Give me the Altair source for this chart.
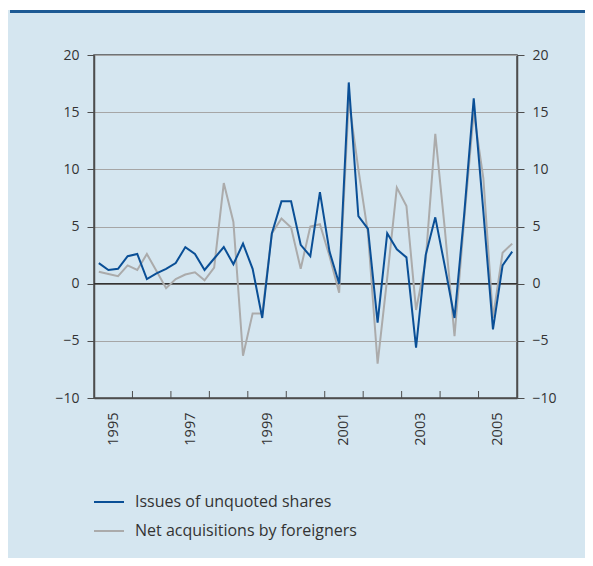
import altair as alt
import pandas as pd

quarters = [f"{y}Q{q}" for y in range(1995, 2006) for q in range(1, 5)]

issues_unquoted = [1.8, 1.2, 1.3, 2.4, 2.6, 0.4, 0.9, 1.3, 1.8, 3.2, 2.6, 1.2,
                   2.2, 3.2, 1.7, 3.5, 1.3, -3.0, 4.4, 7.2, 7.2, 3.4, 2.4, 8.0,
                   2.8, 0.0, 17.6, 5.9, 4.8, -3.4, 4.4, 3.0, 2.3, -5.6, 2.5, 5.8,
                   1.5, -3.0, 6.0, 16.2, 6.3, -4.0, 1.6, 2.8]
net_acq_foreign = [1.05, 0.85, 0.65, 1.6, 1.2, 2.6, 1.1, -0.4, 0.4, 0.8, 1.0, 0.3,
                   1.4, 8.8, 5.4, -6.3, -2.6, -2.6, 4.4, 5.7, 4.9, 1.3, 5.0, 5.2,
                   2.4, -0.8, 16.1, 10.0, 4.4, -7.0, 0.5, 8.4, 6.8, -2.3, 2.0, 13.1,
                   4.7, -4.6, 5.5, 15.0, 9.2, -3.0, 2.7, 3.5]
series_names = ["Issues of unquoted shares", "Net acquisitions by foreigners"]
year_labels = [1995, 1997, 1999, 2001, 2003, 2005]
year_bounds = list(range(1996, 2006))
y_ticks = [-10, -5, 0, 5, 10, 15, 20]

BLUE = "#0a4f96"
GRAY = "#ababab"
BG = "#d5e6f0"
FONT = "Open Sans"
W, H = 423, 343


def qpos(q):
    y, n = q.split("Q")
    return int(y) + (int(n) - 0.5) / 4


df = pd.DataFrame({
    "t": [qpos(q) for q in quarters] * 2,
    "v": issues_unquoted + net_acq_foreign,
    "s": [series_names[0]] * len(quarters) + [series_names[1]] * len(quarters),
})
df_blue = df[df.s == series_names[0]]
df_gray = df[df.s == series_names[1]]

xscale = alt.Scale(domain=[1995, 2006], nice=False, zero=False)
yscale = alt.Scale(domain=[-10, 20], nice=False, zero=False)

xaxis = alt.Axis(values=[y + 0.5 for y in year_labels], labelExpr="floor(datum.value)",
                 labelAngle=270, labelAlign="right", labelBaseline="middle",
                 ticks=False, tickSize=0, labelPadding=14, grid=False, title=None,
                 domainColor="#4d4d4d", domainWidth=1.5, labelFont=FONT,
                 labelFontSize=14.5, labelColor="#333333")
yaxis = alt.Axis(values=y_ticks, grid=True, gridColor="#a6a6a6", gridWidth=1,
                 tickSize=7, tickColor="#4d4d4d", tickWidth=1, domainColor="#4d4d4d",
                 domainWidth=1.5, labelPadding=8, title=None, labelFont=FONT,
                 labelFontSize=14, labelColor="#333333", format="d")
yaxis_r = alt.Axis(values=y_ticks, grid=False, orient="right",
                   tickSize=7, tickColor="#4d4d4d", tickWidth=1, domainColor="#4d4d4d",
                   domainWidth=1.5, labelPadding=8, title=None, labelFont=FONT,
                   labelFontSize=14, labelColor="#333333", format="d")

color = alt.Color("s:N", scale=alt.Scale(domain=series_names, range=[BLUE, GRAY]),
                  legend=alt.Legend(orient="none", legendX=-1, legendY=431, title=None,
                                    symbolType="stroke", symbolSize=900,
                                    symbolStrokeWidth=2, labelFont=FONT,
                                    labelFontSize=16, labelColor="#333333",
                                    labelOffset=10, labelLimit=0, rowPadding=5,
                                    padding=0))

gray_line = alt.Chart(df_gray).mark_line(strokeWidth=2).encode(
    x=alt.X("t:Q", scale=xscale, axis=xaxis),
    y=alt.Y("v:Q", scale=yscale, axis=yaxis),
    color=color,
)
blue_line = alt.Chart(df_blue).mark_line(strokeWidth=2).encode(
    x=alt.X("t:Q", scale=xscale, axis=xaxis),
    y=alt.Y("v:Q", scale=yscale, axis=yaxis),
    color=color,
)

zero_rule = alt.Chart(pd.DataFrame({"z": [0]})).mark_rule(color="#333333", strokeWidth=1.5).encode(
    y=alt.Y("z:Q", scale=yscale, axis=yaxis),
    x=alt.value(0), x2=alt.value(W),
)

tick_rules = alt.Chart(pd.DataFrame({"b": year_bounds})).mark_rule(color="#4d4d4d", strokeWidth=1).encode(
    x=alt.X("b:Q", scale=xscale, axis=xaxis),
    y=alt.value(H), y2=alt.value(H - 7),
)

top_stripe = alt.Chart(pd.DataFrame({"k": [0]})).mark_rule(color="#1d5a94", strokeWidth=3, clip=False).encode(
    x=alt.value(-84), x2=alt.value(W + 80), y=alt.value(-43.5),
)
top_white = alt.Chart(pd.DataFrame({"k": [0]})).mark_rect(color="white", clip=False).encode(
    x=alt.value(-90), x2=alt.value(W + 80), y=alt.value(-50), y2=alt.value(-45),
)

main = alt.layer(top_white, top_stripe, zero_rule, tick_rules, gray_line, blue_line)

right_axis = alt.Chart(df_blue).mark_line(opacity=0).encode(
    x=alt.X("t:Q", scale=xscale, axis=xaxis),
    y=alt.Y("v:Q", scale=yscale, axis=yaxis_r),
)

chart = alt.layer(main, right_axis).resolve_scale(y="independent").properties(
    width=W, height=H,
    background=BG,
    padding={"left": 86, "top": 47, "right": 68, "bottom": 160},
    autosize=alt.AutoSizeParams(type="none"),
).configure_view(stroke="#4d4d4d", strokeWidth=1.5)

chart.save("out.html", embed_options={"renderer": "svg", "actions": False})
